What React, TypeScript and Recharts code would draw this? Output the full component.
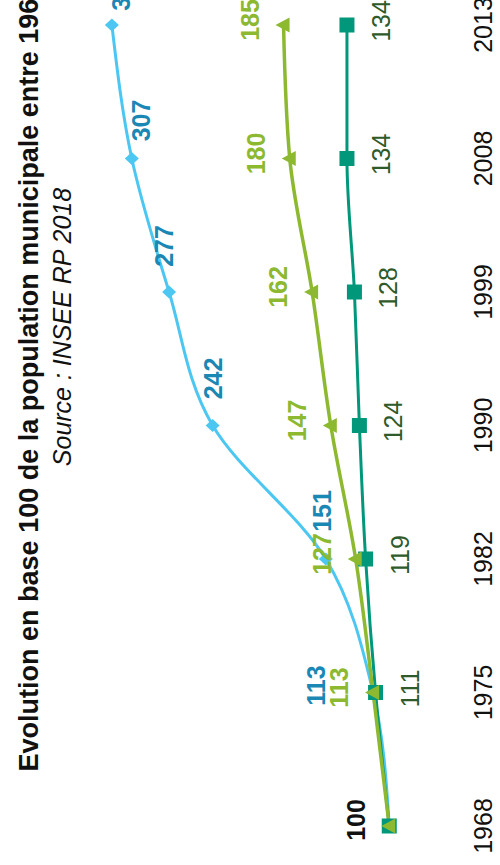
import React from 'react';
import { LineChart, Line, XAxis, YAxis, LabelList } from 'recharts';

// Indices base 100 (1968 = 100)
const years = ['1968', '1975', '1982', '1990', '1999', '2008', '2013'];
const blueSeries = [100, 113, 151, 242, 277, 307, 323];
const greenSeries = [100, 113, 127, 147, 162, 180, 185];
const tealSeries = [100, 111, 119, 124, 128, 134, 134];

const TITLE = 'Evolution en base 100 de la population municipale entre 1968 et 2013';
const SOURCE = 'Source : INSEE RP 2018';

const FONT = '"Liberation Sans", Arial, sans-serif';
const W = 865;
const H = 500;

const BLUE = '#4cc7f2';
const BLUE_TEXT = '#1a87b4';
const GREEN = '#8cb92f';
const TEAL = '#00977a';
const TEAL_TEXT = '#2f5a29';

const data = years.map((year, i) => ({
  year,
  blue: blueSeries[i],
  green: greenSeries[i],
  teal: tealSeries[i],
}));

// label shifts (dx, dy) relative to each point
const blueShift = [[6, -33], [7, -57], [48, -4], [47, 0], [46, -5], [38, 9], [35, 9]];

const YearTick = (props: any) => {
  const { x, y, payload } = props;
  return (
    <text x={x} y={y + 53} textAnchor="middle" fontSize={25} fill="#111" fontFamily={FONT}>
      {payload.value}
    </text>
  );
};

const blueLabel = (props: any) => {
  const { x, y, value, index } = props;
  const [dx, dy] = blueShift[index];
  const first = index === 0;
  return (
    <text x={x + dx} y={y + dy} dy="0.36em" textAnchor="middle" fontSize={25} fontWeight="bold"
      fill={first ? '#111' : BLUE_TEXT} fontFamily={FONT}>
      {value}
    </text>
  );
};

const greenLabel = (props: any) => {
  const { x, y, value, index } = props;
  if (index === 0) return null;
  return (
    <text x={x + 5} y={y - 34} dy="0.36em" textAnchor="middle" fontSize={25} fontWeight="bold"
      fill={GREEN} fontFamily={FONT}>
      {value}
    </text>
  );
};

const tealLabel = (props: any) => {
  const { x, y, value, index } = props;
  if (index === 0) return null;
  return (
    <text x={x + 4} y={y + 34} dy="0.36em" textAnchor="middle" fontSize={25}
      fill={TEAL_TEXT} fontFamily={FONT}>
      {value}
    </text>
  );
};

const diamondDot = (props: any) => {
  const { cx, cy, index } = props;
  return <path key={index} d={`M${cx},${cy - 7}L${cx + 6.5},${cy}L${cx},${cy + 7}L${cx - 6.5},${cy}Z`} fill={BLUE} />;
};

const triangleDot = (props: any) => {
  const { cx, cy, index } = props;
  return <path key={index} d={`M${cx},${cy - 8}L${cx + 7.5},${cy + 6}L${cx - 7.5},${cy + 6}Z`} fill={GREEN} />;
};

const squareDot = (props: any) => {
  const { cx, cy, index } = props;
  return <rect key={index} x={cx - 7.5} y={cy - 7.5} width={15} height={15} fill={TEAL} />;
};

export default function App() {
  return (
    <div style={{ position: 'fixed', top: 0, left: 0, width: H, height: W, overflow: 'hidden', background: '#fff' }}>
      <div style={{ position: 'absolute', top: 0, left: 0, width: W, height: H, transformOrigin: '0 0', transform: `translate(0px, ${W}px) rotate(-90deg)` }}>
        <svg width={1100} height={90} style={{ position: 'absolute', top: 0, left: 0, overflow: 'visible' }}>
          <text x={537} y={38} textAnchor="middle" fontSize={27} fontWeight="bold" fill="#111" fontFamily={FONT}>
            {TITLE}
          </text>
          <text x={538} y={71} textAnchor="middle" fontSize={25} fontStyle="italic" fill="#111" fontFamily={FONT}>
            {SOURCE}
          </text>
        </svg>
        <div style={{ position: 'absolute', top: 0, left: 0 }}>
          <LineChart width={W} height={H} data={data} margin={{ top: 41, right: 0, left: 0, bottom: 0 }}>
            <XAxis dataKey="year" scale="point" padding={{ left: 39, right: 25 }} height={61}
              axisLine={false} tickLine={false} tickSize={0} tickMargin={0} interval={0} tick={<YearTick />} />
            <YAxis hide domain={[60, 380]} />
            <Line type="monotone" dataKey="blue" stroke={BLUE} strokeWidth={3} dot={diamondDot} activeDot={false} isAnimationActive={false}>
              <LabelList dataKey="blue" content={blueLabel} />
            </Line>
            <Line type="monotone" dataKey="teal" stroke={TEAL} strokeWidth={3} dot={squareDot} activeDot={false} isAnimationActive={false}>
              <LabelList dataKey="teal" content={tealLabel} />
            </Line>
            <Line type="monotone" dataKey="green" stroke={GREEN} strokeWidth={3.5} dot={triangleDot} activeDot={false} isAnimationActive={false}>
              <LabelList dataKey="green" content={greenLabel} />
            </Line>
          </LineChart>
        </div>
      </div>
    </div>
  );
}
